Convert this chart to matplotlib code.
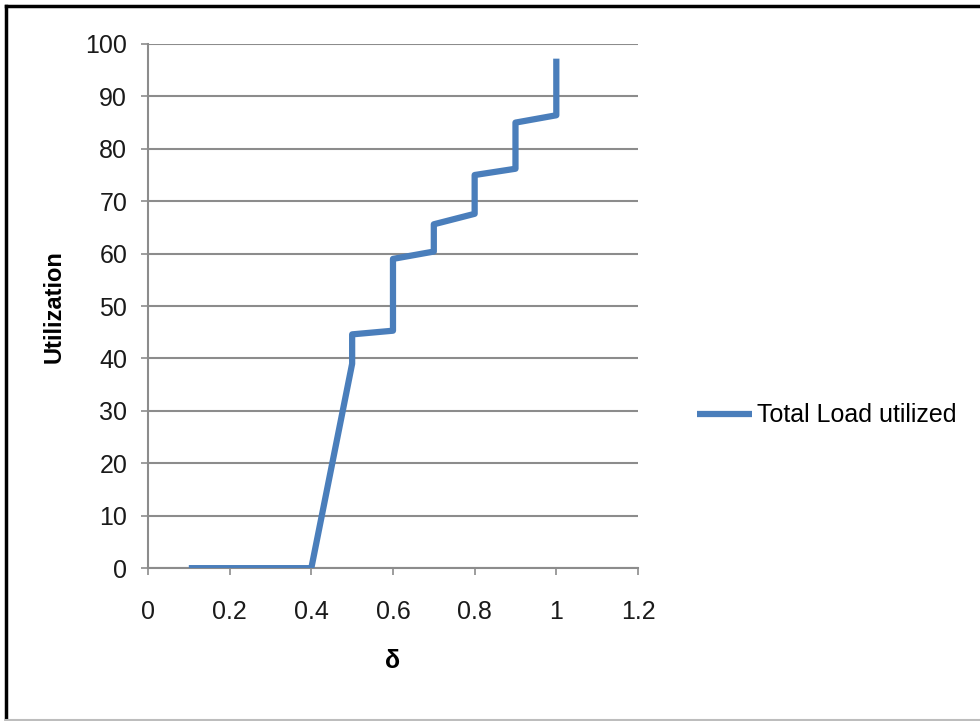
import matplotlib.pyplot as plt
from matplotlib.lines import Line2D
from matplotlib import font_manager

# delta vs. utilization (step-like rise after 0.4)
delta = [0.1, 0.2, 0.3, 0.4, 0.5, 0.5, 0.6, 0.6, 0.7, 0.7, 0.8, 0.8, 0.9, 0.9, 1.0, 1.0, 1.0]
utilization = [0, 0, 0, 0, 39, 44.6, 45.3, 59, 60.4, 65.6, 67.6, 75, 76.2, 85, 86.4, 89.7, 97.2]

x_ticks = [0, 0.2, 0.4, 0.6, 0.8, 1, 1.2]
x_tick_labels = ['0', '0.2', '0.4', '0.6', '0.8', '1', '1.2']
y_ticks = list(range(0, 101, 10))

installed = {f.name for f in font_manager.fontManager.ttflist}
families = [f for f in ['DejaVu Sans Condensed', 'Liberation Sans Narrow', 'Liberation Sans']
            if f in installed] + ['DejaVu Sans']
plt.rcParams['font.family'] = families

fig = plt.figure(figsize=(9.8, 7.21), dpi=100)
ax = fig.add_axes([0.151, 0.212, 0.500, 0.727])

line_color = '#4a7ebb'
grid_color = '#8c8c8c'

ax.plot(delta, utilization, color=line_color, lw=4.5, solid_joinstyle='round',
        solid_capstyle='butt', label='Total Load utilized', zorder=3)

ax.set_xlim(0, 1.2)
ax.set_ylim(0, 100)
ax.set_xticks(x_ticks)
ax.set_xticklabels(x_tick_labels)
ax.set_yticks(y_ticks)

ax.grid(axis='y', color=grid_color, lw=1.5)
ax.set_axisbelow(True)
for side in ['top', 'right']:
    ax.spines[side].set_visible(False)
for side in ['left', 'bottom']:
    ax.spines[side].set_color(grid_color)
    ax.spines[side].set_linewidth(1.5)

ax.tick_params(axis='both', direction='out', length=5, width=1.2, color=grid_color,
               labelsize=18, labelcolor='#1a1a1a')
ax.tick_params(axis='x', pad=18)
ax.tick_params(axis='y', pad=10)

ax.set_xlabel('δ', fontsize=18, fontweight='bold', labelpad=18)
ax.set_ylabel('Utilization', fontsize=17, fontweight='bold', labelpad=14)

fig.legend(loc='center left', bbox_to_anchor=(0.711, 0.424), frameon=False,
           fontsize=18, handlelength=2.2, handletextpad=0.2, borderpad=0,
           borderaxespad=0)

# outer frame: dark left/top edges, faint bottom edge
fig.add_artist(Line2D([0.0065, 0.0065], [0.0, 0.9915], transform=fig.transFigure,
                      color='black', lw=2.5))
fig.add_artist(Line2D([0.0065, 1.0], [0.9915, 0.9915], transform=fig.transFigure,
                      color='black', lw=2.5))
fig.add_artist(Line2D([0.0065, 1.0], [0.0015, 0.0015], transform=fig.transFigure,
                      color='#bdbdbd', lw=1.5))

fig.savefig('out.png', dpi=100)
